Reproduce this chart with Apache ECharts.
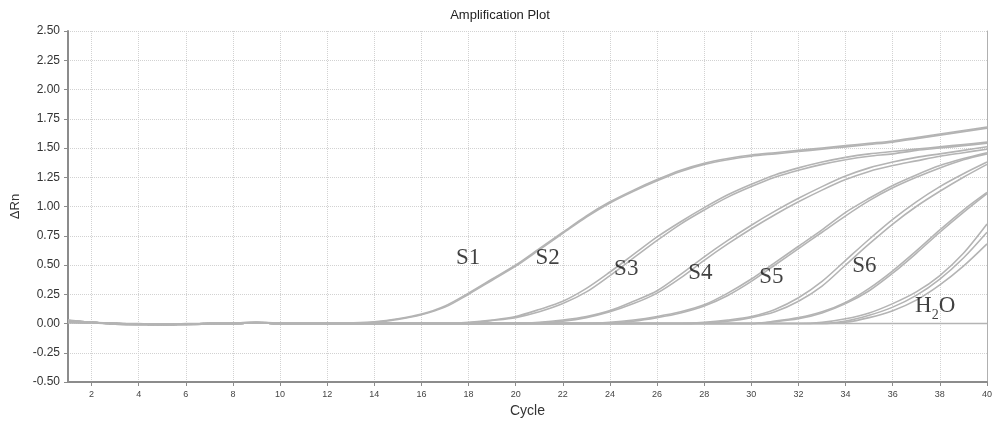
<!DOCTYPE html>
<html><head><meta charset="utf-8">
<script src="https://cdn.jsdelivr.net/npm/echarts@6/dist/echarts.min.js"></script>
<style>html,body{margin:0;padding:0;background:#fff}#c{width:1000px;height:433px}</style>
</head><body><div id="c"></div>
<script>
const cycles = [1,2,3,4,5,6,7,8,9,10,11,12,13,14,15,16,17,18,19,20,21,22,23,24,25,26,27,28,29,30,31,32,33,34,35,36,37,38,39,40];
const xTicks = [2,4,6,8,10,12,14,16,18,20,22,24,26,28,30,32,34,36,38,40];

const s1a = [0.02,0.01,0,-0.01,-0.01,-0.005,0,0,0.005,0,
  0,0,0.005,0.015,0.04,0.08,0.15,0.26,0.38,0.5,
  0.64,0.78,0.92,1.04,1.14,1.23,1.31,1.37,1.41,1.44,
  1.46,1.48,1.5,1.52,1.54,1.56,1.59,1.62,1.65,1.68];
const s1b = [0.03,0.01,-0.005,-0.01,-0.01,0,0,0.005,0.01,0,
  0,0,0,0.01,0.035,0.075,0.14,0.25,0.37,0.49,
  0.63,0.77,0.91,1.03,1.13,1.22,1.3,1.36,1.4,1.43,
  1.45,1.47,1.49,1.51,1.53,1.55,1.58,1.61,1.64,1.67];
const s2a = [0.01,0.005,0,-0.005,-0.01,-0.01,-0.005,0,0.005,0,
  -0.005,0,0,0,0,0,0,0.01,0.03,0.06,
  0.12,0.19,0.3,0.44,0.59,0.74,0.87,0.99,1.1,1.19,
  1.27,1.33,1.38,1.42,1.45,1.47,1.49,1.51,1.53,1.55];
const s2b = [0.02,0.01,0,-0.005,-0.005,-0.01,-0.005,0,0.01,0.005,
  0,0,0,0,0,0,0,0.005,0.025,0.05,
  0.1,0.17,0.27,0.41,0.56,0.71,0.85,0.97,1.08,1.17,
  1.25,1.31,1.36,1.4,1.43,1.45,1.48,1.5,1.52,1.54];
const s3a = [0.015,0.01,0,-0.005,-0.01,-0.005,-0.005,0,0.005,0,
  0,0,0,0,0,0,0,0,0,0,
  0.01,0.03,0.06,0.11,0.19,0.28,0.42,0.57,0.71,0.84,
  0.96,1.07,1.17,1.26,1.33,1.38,1.42,1.45,1.48,1.51];
const s3b = [0.025,0.01,0,0,-0.01,-0.005,0,0,0.005,0,
  0,0,0,0,0,0,0,0,0,0,
  0.005,0.02,0.05,0.1,0.17,0.26,0.39,0.54,0.68,0.81,
  0.93,1.04,1.14,1.23,1.3,1.35,1.39,1.43,1.46,1.49];
const s4a = [0.01,0.005,0,-0.005,-0.01,-0.005,0,0,0.005,0,
  0,0,0,0,0,0,0,0,0,0,
  0,0,0,0.01,0.03,0.06,0.1,0.16,0.26,0.38,
  0.52,0.66,0.8,0.95,1.07,1.18,1.27,1.35,1.41,1.46];
const s4b = [0.02,0.01,-0.005,-0.01,-0.01,-0.005,0,0.005,0.01,0,
  0,0,0,0,0,0,0,0,0,0,
  0,0,0,0.005,0.02,0.05,0.09,0.15,0.24,0.36,
  0.5,0.64,0.78,0.92,1.05,1.16,1.25,1.33,1.4,1.45];
const s5a = [0.015,0.005,0,-0.005,-0.01,-0.005,0,0,0.005,0,
  0,0,0,0,0,0,0,0,0,0,
  0,0,0,0,0,0,0,0.01,0.03,0.06,
  0.12,0.22,0.36,0.54,0.72,0.89,1.04,1.17,1.28,1.38];
const s5b = [0.02,0.01,0,-0.005,-0.005,-0.005,0,0,0.005,0,
  0,0,0,0,0,0,0,0,0,0,
  0,0,0,0,0,0,0,0.005,0.02,0.05,
  0.1,0.19,0.32,0.5,0.68,0.85,1.0,1.13,1.25,1.36];
const s6a = [0.01,0.005,0,-0.005,-0.01,-0.005,0,0,0.005,0,
  0,0,0,0,0,0,0,0,0,0,
  0,0,0,0,0,0,0,0,0,0,
  0.02,0.05,0.1,0.18,0.3,0.45,0.62,0.8,0.97,1.12];
const s6b = [0.02,0.01,0,-0.005,-0.01,-0.005,0,0,0.01,0,
  0,0,0,0,0,0,0,0,0,0,
  0,0,0,0,0,0,0,0,0,0,
  0.015,0.04,0.09,0.17,0.28,0.43,0.6,0.78,0.95,1.11];
const s7a = [0.015,0.01,0,-0.005,-0.01,-0.005,0,0,0.005,0,
  0,0,0,0,0,0,0,0,0,0,
  0,0,0,0,0,0,0,0,0,0,
  0,0,0.01,0.04,0.09,0.17,0.27,0.41,0.6,0.85];
const s7b = [0.02,0.005,0,-0.005,-0.005,-0.005,0,0,0.005,0,
  0,0,0,0,0,0,0,0,0,0,
  0,0,0,0,0,0,0,0,0,0,
  0,0,0,0.02,0.07,0.14,0.24,0.38,0.56,0.78];
const s7c = [0.01,0.005,0,-0.005,-0.01,-0.005,0,0,0.005,0,
  0,0,0,0,0,0,0,0,0,0,
  0,0,0,0,0,0,0,0,0,0,
  0,0,0,0.01,0.05,0.11,0.2,0.33,0.49,0.68];
const h2o = [0.025,0.01,0,-0.005,-0.01,-0.005,0,0,0.005,0,
  0,0,0,0,0,0,0,0,0,0,
  0,0,0,0,0,0,0,0,0,0,
  0,0,0,0,0,0,0,0,0,0];

const labelText = ['S1','S2','S3','S4','S5','S6','H{s|2}O'];
const labelX = [17.98, 21.35, 24.69, 27.84, 30.85, 34.8, 37.8];
const labelY = [0.56, 0.56, 0.47, 0.43, 0.40, 0.49, 0.15];

const curves = [s1a,s1b,s2a,s2b,s3a,s3b,s4a,s4b,s5a,s5b,s6a,s6b,s7a,s7b,s7c,h2o];

const chart = echarts.init(document.getElementById('c'), null, {renderer:'canvas'});
const series = curves.map(arr => ({
  type:'line', data: cycles.map((c,i)=>[c,arr[i]]), showSymbol:false, smooth:0.3,
  lineStyle:{color:'#b4b4b4', width:1.6}, silent:true, animation:false, z:3
}));
series.push({
  type:'scatter', symbolSize:0, animation:false, z:5,
  data: labelX.map((x,i)=>({value:[x,labelY[i]], name:labelText[i]})),
  label:{show:true, position:'inside', formatter:p=>p.name,
    fontFamily:'Liberation Serif', fontSize:23, color:'#111',
    rich:{s:{fontFamily:'Liberation Serif', fontSize:14, color:'#111', padding:[18,0,0,0]}}}
});

chart.setOption({
  animation:false,
  backgroundColor:'#fff',
  title:{text:'Amplification Plot', left:'center', top:4,
    textStyle:{fontSize:13, fontWeight:'normal', color:'#222', fontFamily:'Liberation Sans'}},
  grid:{left:68, right:13, top:31, bottom:51},
  xAxis:{type:'value', min:1, max:40,
    name:'Cycle', nameLocation:'middle', nameGap:22,
    nameTextStyle:{fontSize:14, color:'#333', fontFamily:'Liberation Sans'},
    axisLine:{show:true, onZero:false, lineStyle:{color:'#8c8c8c', width:2}},
    axisTick:{show:true, customValues:xTicks, length:4, lineStyle:{color:'#8c8c8c'}},
    axisLabel:{customValues:xTicks, fontSize:9, color:'#444', margin:8, fontFamily:'Liberation Sans'},
    splitLine:{show:true, lineStyle:{type:'dotted', color:'#d2d2d2', width:1}}},
  yAxis:[{type:'value', min:-0.5, max:2.5, interval:0.25,
    name:'ΔRn', nameLocation:'middle', nameGap:46, nameRotate:90,
    nameTextStyle:{fontSize:13, color:'#333', fontFamily:'Liberation Sans'},
    axisLine:{show:true, lineStyle:{color:'#8c8c8c', width:2}},
    axisTick:{show:true, length:4, lineStyle:{color:'#8c8c8c'}},
    axisLabel:{formatter:v=>v.toFixed(2), fontSize:12, color:'#333', margin:8, fontFamily:'Liberation Sans'},
    splitLine:{show:true, lineStyle:{type:'dotted', color:'#d2d2d2', width:1}}},
   {type:'value', min:-0.5, max:2.5, interval:0.25, position:'right',
    axisLine:{show:true, lineStyle:{color:'#b0b0b0', width:1}},
    axisTick:{show:false}, axisLabel:{show:false}, splitLine:{show:false}}],
  series
});
</script></body></html>
